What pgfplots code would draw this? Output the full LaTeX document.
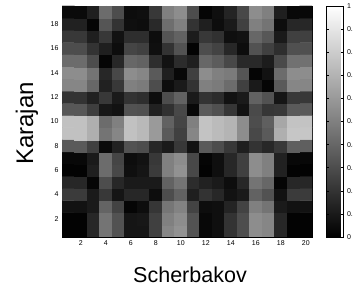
\documentclass[border=0pt]{standalone}
\usepackage{pgfplots}
\pgfplotsset{compat=1.18}
\usepackage{fontspec}
\setmainfont{Liberation Sans}
\pgfplotstableread[row sep=\\]{
x y c\\
1 1 0.01\\ 2 1 0.01\\ 3 1 0.15\\ 4 1 0.45\\ 5 1 0.32\\ 6 1 0.08\\ 7 1 0.08\\ 8 1 0.25\\ 9 1 0.52\\ 10 1 0.57\\ 11 1 0.32\\ 12 1 0.03\\ 13 1 0.06\\ 14 1 0.20\\ 15 1 0.30\\ 16 1 0.55\\ 17 1 0.52\\ 18 1 0.15\\ 19 1 0.01\\ 20 1 0.01\\
1 2 0.01\\ 2 2 0.01\\ 3 2 0.15\\ 4 2 0.45\\ 5 2 0.32\\ 6 2 0.08\\ 7 2 0.09\\ 8 2 0.25\\ 9 2 0.50\\ 10 2 0.55\\ 11 2 0.32\\ 12 2 0.03\\ 13 2 0.06\\ 14 2 0.20\\ 15 2 0.30\\ 16 2 0.55\\ 17 2 0.52\\ 18 2 0.15\\ 19 2 0.01\\ 20 2 0.01\\
1 3 0.07\\ 2 3 0.07\\ 3 3 0.10\\ 4 3 0.39\\ 5 3 0.26\\ 6 3 0.02\\ 7 3 0.05\\ 8 3 0.21\\ 9 3 0.46\\ 10 3 0.51\\ 11 3 0.26\\ 12 3 0.05\\ 13 3 0.06\\ 14 3 0.14\\ 15 3 0.26\\ 16 3 0.50\\ 17 3 0.45\\ 18 3 0.10\\ 19 3 0.07\\ 20 3 0.07\\
1 4 0.23\\ 2 4 0.23\\ 3 4 0.10\\ 4 4 0.22\\ 5 4 0.08\\ 6 4 0.15\\ 7 4 0.15\\ 8 4 0.05\\ 9 4 0.30\\ 10 4 0.38\\ 11 4 0.12\\ 12 4 0.20\\ 13 4 0.15\\ 14 4 0.07\\ 15 4 0.10\\ 16 4 0.38\\ 17 4 0.32\\ 18 4 0.07\\ 19 4 0.23\\ 20 4 0.23\\
1 5 0.15\\ 2 5 0.15\\ 3 5 0.02\\ 4 5 0.30\\ 5 5 0.15\\ 6 5 0.10\\ 7 5 0.10\\ 8 5 0.10\\ 9 5 0.38\\ 10 5 0.45\\ 11 5 0.17\\ 12 5 0.13\\ 13 5 0.10\\ 14 5 0.05\\ 15 5 0.15\\ 16 5 0.45\\ 17 5 0.40\\ 18 5 0.02\\ 19 5 0.15\\ 20 5 0.15\\
1 6 0.01\\ 2 6 0.01\\ 3 6 0.12\\ 4 6 0.42\\ 5 6 0.28\\ 6 6 0.06\\ 7 6 0.08\\ 8 6 0.23\\ 9 6 0.50\\ 10 6 0.57\\ 11 6 0.28\\ 12 6 0.01\\ 13 6 0.06\\ 14 6 0.15\\ 15 6 0.25\\ 16 6 0.55\\ 17 6 0.50\\ 18 6 0.13\\ 19 6 0.01\\ 20 6 0.01\\
1 7 0.03\\ 2 7 0.03\\ 3 7 0.10\\ 4 7 0.42\\ 5 7 0.27\\ 6 7 0.05\\ 7 7 0.07\\ 8 7 0.22\\ 9 7 0.50\\ 10 7 0.55\\ 11 7 0.28\\ 12 7 0.02\\ 13 7 0.06\\ 14 7 0.15\\ 15 7 0.25\\ 16 7 0.55\\ 17 7 0.50\\ 18 7 0.13\\ 19 7 0.03\\ 20 7 0.03\\
1 8 0.35\\ 2 8 0.35\\ 3 8 0.25\\ 4 8 0.04\\ 5 8 0.13\\ 6 8 0.32\\ 7 8 0.30\\ 8 8 0.15\\ 9 8 0.10\\ 10 8 0.22\\ 11 8 0.07\\ 12 8 0.35\\ 13 8 0.30\\ 14 8 0.22\\ 15 8 0.12\\ 16 8 0.20\\ 17 8 0.15\\ 18 8 0.22\\ 19 8 0.37\\ 20 8 0.37\\
1 9 0.75\\ 2 9 0.75\\ 3 9 0.68\\ 4 9 0.45\\ 5 9 0.52\\ 6 9 0.75\\ 7 9 0.72\\ 8 9 0.60\\ 9 9 0.35\\ 10 9 0.25\\ 11 9 0.52\\ 12 9 0.76\\ 13 9 0.73\\ 14 9 0.70\\ 15 9 0.55\\ 16 9 0.28\\ 17 9 0.35\\ 18 9 0.68\\ 19 9 0.77\\ 20 9 0.77\\
1 10 0.75\\ 2 10 0.75\\ 3 10 0.68\\ 4 10 0.42\\ 5 10 0.50\\ 6 10 0.75\\ 7 10 0.72\\ 8 10 0.60\\ 9 10 0.38\\ 10 10 0.27\\ 11 10 0.50\\ 12 10 0.76\\ 13 10 0.73\\ 14 10 0.70\\ 15 10 0.55\\ 16 10 0.30\\ 17 10 0.37\\ 18 10 0.65\\ 19 10 0.76\\ 20 10 0.76\\
1 11 0.34\\ 2 11 0.34\\ 3 11 0.24\\ 4 11 0.09\\ 5 11 0.07\\ 6 11 0.32\\ 7 11 0.31\\ 8 11 0.13\\ 9 11 0.19\\ 10 11 0.28\\ 11 11 0.03\\ 12 11 0.35\\ 13 11 0.31\\ 14 11 0.21\\ 15 11 0.07\\ 16 11 0.29\\ 17 11 0.21\\ 18 11 0.22\\ 19 11 0.35\\ 20 11 0.35\\
1 12 0.20\\ 2 12 0.20\\ 3 12 0.13\\ 4 12 0.22\\ 5 12 0.10\\ 6 12 0.20\\ 7 12 0.18\\ 8 12 0.05\\ 9 12 0.30\\ 10 12 0.38\\ 11 12 0.10\\ 12 12 0.20\\ 13 12 0.17\\ 14 12 0.07\\ 15 12 0.10\\ 16 12 0.38\\ 17 12 0.32\\ 18 12 0.08\\ 19 12 0.22\\ 20 12 0.22\\
1 13 0.52\\ 2 13 0.52\\ 3 13 0.40\\ 4 13 0.13\\ 5 13 0.22\\ 6 13 0.50\\ 7 13 0.48\\ 8 13 0.30\\ 9 13 0.05\\ 10 13 0.10\\ 11 13 0.20\\ 12 13 0.50\\ 13 13 0.48\\ 14 13 0.42\\ 15 13 0.25\\ 16 13 0.10\\ 17 13 0.02\\ 18 13 0.35\\ 19 13 0.52\\ 20 13 0.52\\
1 14 0.55\\ 2 14 0.55\\ 3 14 0.45\\ 4 14 0.15\\ 5 14 0.28\\ 6 14 0.55\\ 7 14 0.52\\ 8 14 0.35\\ 9 14 0.12\\ 10 14 0.03\\ 11 14 0.25\\ 12 14 0.55\\ 13 14 0.50\\ 14 14 0.48\\ 15 14 0.33\\ 16 14 0.02\\ 17 14 0.07\\ 18 14 0.42\\ 19 14 0.55\\ 20 14 0.55\\
1 15 0.42\\ 2 15 0.42\\ 3 15 0.30\\ 4 15 0.02\\ 5 15 0.15\\ 6 15 0.40\\ 7 15 0.38\\ 8 15 0.18\\ 9 15 0.07\\ 10 15 0.17\\ 11 15 0.12\\ 12 15 0.40\\ 13 15 0.36\\ 14 15 0.28\\ 15 15 0.16\\ 16 15 0.16\\ 17 15 0.11\\ 18 15 0.29\\ 19 15 0.44\\ 20 15 0.44\\
1 16 0.30\\ 2 16 0.30\\ 3 16 0.20\\ 4 16 0.12\\ 5 16 0.05\\ 6 16 0.27\\ 7 16 0.25\\ 8 16 0.06\\ 9 16 0.20\\ 10 16 0.32\\ 11 16 0.01\\ 12 16 0.30\\ 13 16 0.26\\ 14 16 0.15\\ 15 16 0.05\\ 16 16 0.32\\ 17 16 0.25\\ 18 16 0.18\\ 19 16 0.31\\ 20 16 0.31\\
1 17 0.22\\ 2 17 0.22\\ 3 17 0.12\\ 4 17 0.22\\ 5 17 0.07\\ 6 17 0.18\\ 7 17 0.18\\ 8 17 0.05\\ 9 17 0.33\\ 10 17 0.38\\ 11 17 0.11\\ 12 17 0.22\\ 13 17 0.19\\ 14 17 0.06\\ 15 17 0.07\\ 16 17 0.40\\ 17 17 0.34\\ 18 17 0.10\\ 19 17 0.25\\ 20 17 0.25\\
1 18 0.13\\ 2 18 0.13\\ 3 18 0.02\\ 4 18 0.33\\ 5 18 0.20\\ 6 18 0.06\\ 7 18 0.05\\ 8 18 0.16\\ 9 18 0.43\\ 10 18 0.50\\ 11 18 0.20\\ 12 18 0.12\\ 13 18 0.05\\ 14 18 0.10\\ 15 18 0.25\\ 16 18 0.50\\ 17 18 0.45\\ 18 18 0.05\\ 19 18 0.15\\ 20 18 0.15\\
1 19 0.04\\ 2 19 0.04\\ 3 19 0.12\\ 4 19 0.42\\ 5 19 0.30\\ 6 19 0.05\\ 7 19 0.06\\ 8 19 0.22\\ 9 19 0.50\\ 10 19 0.55\\ 11 19 0.30\\ 12 19 0.02\\ 13 19 0.06\\ 14 19 0.14\\ 15 19 0.28\\ 16 19 0.55\\ 17 19 0.50\\ 18 19 0.12\\ 19 19 0.03\\ 20 19 0.03\\
}\heatdata
\begin{document}
\begin{tikzpicture}[x=1pt,y=1pt]
\path[use as bounding box] (0,0) rectangle (353,288);
\begin{axis}[
  at={(62pt,51pt)}, anchor=south west,
  scale only axis, width=250pt, height=231pt,
  xmin=0.5, xmax=20.5, ymin=0.5, ymax=19.5, enlargelimits=false,
  xtick={2,4,...,20}, ytick={2,4,...,18},
  tick align=inside, major tick length=2.5pt,
  tick style={black, line width=0.4pt},
  ticklabel style={font=\fontsize{7}{8}\selectfont},
  /pgf/number format/assume math mode=true,
  xlabel={Scherbakov}, ylabel={Karajan},
  xlabel style={font=\fontsize{21.5}{25}\selectfont, at={(axis description cs:0.5,0)}, anchor=base, yshift=-46pt, xshift=3pt},
  ylabel style={font=\fontsize{24}{28}\selectfont, at={(axis description cs:0,0.5)}, anchor=base, yshift=29pt, xshift=-2pt},
  colormap={bw}{gray(0cm)=(0); gray(1cm)=(1)},
  point meta min=0, point meta max=1,
  colorbar,
  colorbar style={
    at={(parent axis.north east)}, anchor=north west, xshift=6pt,
    width=17pt,
    ytick={0,0.1,0.2,0.3,0.4,0.5,0.6,0.7,0.8,0.9,1},
    ytick pos=both, yticklabel pos=right,
    tick align=inside, major tick length=2.5pt,
    tick style={black, line width=0.4pt},
    yticklabel style={font=\fontsize{7}{8}\selectfont, /pgf/number format/assume math mode=true},
  },
]
\addplot[matrix plot*, mesh/cols=20, point meta=explicit] table[x=x, y=y, meta=c] {\heatdata};
\end{axis}
\end{tikzpicture}
\end{document}
